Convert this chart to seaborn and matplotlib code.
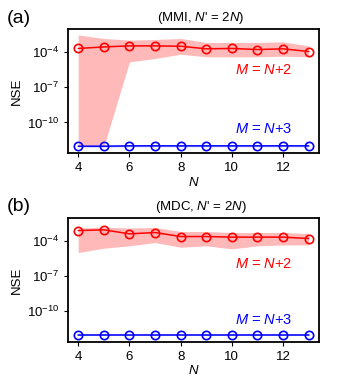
import numpy as np
import pandas as pd
import matplotlib
matplotlib.use("Agg")
import matplotlib.pyplot as plt
import seaborn as sns
from matplotlib.ticker import FixedLocator, NullLocator

# --- data (log10 of NSE) ---
n_vals = [4, 5, 6, 7, 8, 9, 10, 11, 12, 13]

mmi_n2 = [-3.71, -3.58, -3.49, -3.49, -3.52, -3.74, -3.71, -3.80, -3.74, -3.97]
mmi_n2_hi = [-2.56, -2.86, -3.00, -2.95, -2.86, -3.20, -3.20, -3.20, -3.15, -3.49]
mmi_n2_lo = [-12.05, -12.05, -4.85, -4.56, -4.20, -4.42, -4.42, -4.42, -4.37, -4.42]
mmi_n3 = [-12.02, -12.02, -11.99, -11.99, -11.99, -11.99, -11.99, -11.99, -11.99, -11.99]

mdc_n2 = [-3.15, -3.09, -3.43, -3.32, -3.66, -3.66, -3.71, -3.71, -3.71, -3.83]
mdc_n2_hi = [-2.94, -2.86, -2.94, -2.89, -3.23, -3.23, -3.32, -3.32, -3.32, -3.40]
mdc_n2_lo = [-5.02, -4.65, -4.45, -4.17, -4.57, -4.45, -4.71, -4.45, -4.37, -4.37]
mdc_n3 = [-12.0, -12.0, -12.0, -12.0, -12.0, -12.0, -12.0, -12.0, -12.0, -12.0]

panels = [
    ("(a)", "(MMI, $N$' = 2$N$)", mmi_n2, mmi_n2_lo, mmi_n2_hi, mmi_n3, 0.67, 0.196),
    ("(b)", "(MDC, $N$' = 2$N$)", mdc_n2, mdc_n2_lo, mdc_n2_hi, mdc_n3, 0.632, 0.177),
]

sns.set_theme(style="ticks")
plt.rcParams["font.family"] = ["Liberation Sans", "DejaVu Sans"]
plt.rcParams["mathtext.fontset"] = "custom"
plt.rcParams["mathtext.rm"] = "Liberation Sans"
plt.rcParams["mathtext.it"] = "Liberation Sans:italic"
plt.rcParams["mathtext.bf"] = "Liberation Sans:bold"
plt.rcParams["text.color"] = "black"
plt.rcParams["axes.labelcolor"] = "black"
plt.rcParams["xtick.color"] = "black"
plt.rcParams["ytick.color"] = "black"

fig = plt.figure(figsize=(3.54, 3.89), dpi=100)
boxes = [[0.192, 0.606, 0.709, 0.319], [0.192, 0.121, 0.709, 0.319]]

for box, (tag, title, red, lo, hi, blue, y2, y3) in zip(boxes, panels):
    ax = fig.add_axes(box)
    df = pd.DataFrame({"N": n_vals,
                       "red": 10.0 ** np.array(red),
                       "blue": 10.0 ** np.array(blue)})
    ax.fill_between(n_vals, 10.0 ** np.array(lo), 10.0 ** np.array(hi),
                    color="#ffa8a8", alpha=0.8, lw=0)
    ax.fill_between(n_vals, 10.0 ** (np.array(blue) - 0.08), 10.0 ** (np.array(blue) + 0.08),
                    color="#9999ff", alpha=0.5, lw=0)
    sns.lineplot(data=df, x="N", y="red", ax=ax, color="red", lw=1.1,
                 marker="o", markersize=6, markerfacecolor="none",
                 markeredgecolor="red", markeredgewidth=1.2)
    sns.lineplot(data=df, x="N", y="blue", ax=ax, color="blue", lw=1.1,
                 marker="o", markersize=6, markerfacecolor="none",
                 markeredgecolor="blue", markeredgewidth=1.2)
    ax.set_yscale("log")
    ax.set_ylim(10 ** -12.62, 10 ** -2.07)
    ax.set_xlim(3.6, 13.4)
    ax.yaxis.set_major_locator(FixedLocator([1e-4, 1e-7, 1e-10]))
    ax.yaxis.set_minor_locator(NullLocator())
    ax.set_xticks([4, 6, 8, 10, 12])
    ax.tick_params(labelsize=9.5, length=3, width=0.8, colors="black")
    for s in ax.spines.values():
        s.set_linewidth(1.3)
        s.set_color("black")
    ax.set_xlabel("$N$", fontsize=9.5, labelpad=1)
    ax.set_ylabel("NSE", fontsize=9.5, labelpad=3)
    ax.set_title(title, fontsize=9.5, pad=6, x=0.53)
    ax.text(0.667, y2, "$M$ = $N$+2", transform=ax.transAxes, color="red",
            fontsize=10.5, ha="left", va="center")
    ax.text(0.667, y3, "$M$ = $N$+3", transform=ax.transAxes, color="blue",
            fontsize=10.5, ha="left", va="center")
    fig.text(0.02, box[1] + box[3] + 0.028, tag, fontsize=14, ha="left", va="center")

fig.savefig("out.png", dpi=100)
